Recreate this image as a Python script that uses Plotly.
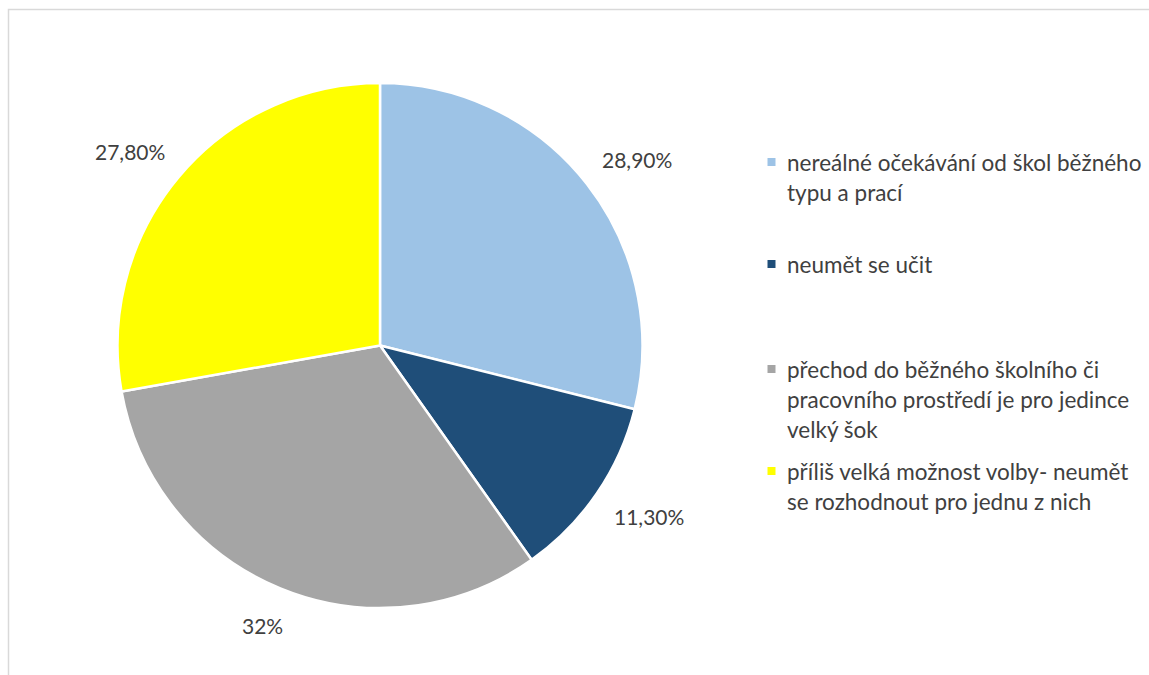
import math
import plotly.graph_objects as go

# Survey answers and their shares (%)
categories = [
    "nereálné očekávání od škol běžného<br>typu a prací",
    "neumět se učit",
    "přechod do běžného školního či<br>pracovního prostředí je pro jedince<br>velký šok",
    "příliš velká možnost volby- neumět<br>se rozhodnout pro jednu z nich",
]
values = [28.9, 11.3, 32.0, 27.8]
value_labels = ["28,90%", "11,30%", "32%", "27,80%"]
colors = ["#9DC3E6", "#1F4E79", "#A5A5A5", "#FFFF00"]

W, H = 1149, 675
FONT = "Lato"
TEXT_COLOR = "#404040"
LABEL_SIZE = 21
LEGEND_SIZE = 22.5

# pie geometry in pixels
cx, cy, r = 380, 345.5, 262.5
label_gap = 29          # distance from the rim to the nearest side of a label box
char_w, label_h = 11.6, 22

fig = go.Figure(
    go.Pie(
        labels=[c.replace("<br>", " ") for c in categories],
        values=values,
        sort=False,
        direction="clockwise",
        rotation=0,
        marker=dict(colors=colors, line=dict(color="white", width=2.5)),
        textinfo="none",
        hoverinfo="label+percent",
        showlegend=False,
        domain=dict(
            x=[(cx - r) / W, (cx + r) / W],
            y=[(H - cy - r) / H, (H - cy + r) / H],
        ),
    )
)

annotations = []
shapes = []

# value labels placed outside each slice, pushed away along its mid-angle
total = sum(values)
cum = 0.0
for v, txt in zip(values, value_labels):
    mid = (cum + v / 2) / total * 2 * math.pi
    cum += v
    s, c = math.sin(mid), -math.cos(mid)
    w = len(txt) * char_w
    px = cx + (r + label_gap) * s + w / 2 * s
    py = cy + (r + label_gap) * c + label_h / 2 * c
    annotations.append(dict(
        x=px / W, y=1 - py / H, xref="paper", yref="paper",
        text=txt, showarrow=False, xanchor="center", yanchor="middle",
        font=dict(family=FONT, size=LABEL_SIZE, color=TEXT_COLOR),
    ))

# legend drawn as colour squares with wrapped text
legend_rows = [162, 264, 369, 471]
line_step = 30
marker_x = 771.5
text_x = 785
sq = 8
for name, col, row_y in zip(categories, colors, legend_rows):
    shapes.append(dict(
        type="rect", xref="paper", yref="paper",
        x0=(marker_x - sq / 2) / W, x1=(marker_x + sq / 2) / W,
        y0=1 - (row_y + sq / 2) / H, y1=1 - (row_y - sq / 2) / H,
        fillcolor=col, line=dict(width=0),
    ))
    for i, line in enumerate(name.split("<br>")):
        ly = row_y + i * line_step
        annotations.append(dict(
            x=text_x / W, y=1 - ly / H, xref="paper", yref="paper",
            text=line, showarrow=False, xanchor="left", yanchor="middle",
            font=dict(family=FONT, size=LEGEND_SIZE, color=TEXT_COLOR),
        ))

# chart area border
shapes.append(dict(
    type="rect", xref="paper", yref="paper",
    x0=8.5 / W, x1=1.02, y0=-0.02, y1=1 - 9.5 / H,
    line=dict(color="#D9D9D9", width=1.5), fillcolor="rgba(0,0,0,0)",
))

fig.update_layout(
    width=W, height=H,
    margin=dict(l=0, r=0, t=0, b=0),
    paper_bgcolor="white", plot_bgcolor="white",
    annotations=annotations, shapes=shapes,
    font=dict(family=FONT, color=TEXT_COLOR),
)

fig.write_html("out.html")
